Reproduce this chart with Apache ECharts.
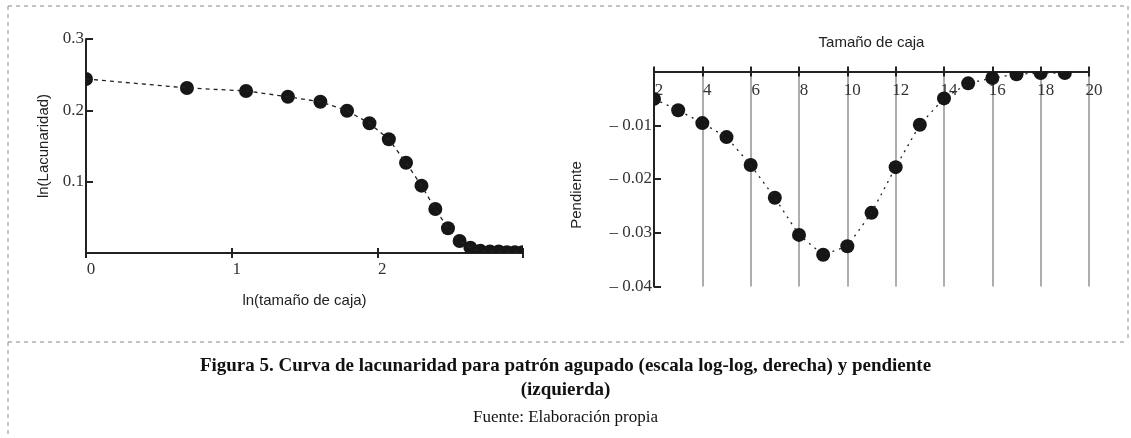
<!DOCTYPE html>
<html>
<head>
<meta charset="utf-8">
<script src="https://cdn.jsdelivr.net/npm/echarts@6/dist/echarts.min.js"></script>
<style>
html, body { margin: 0; padding: 0; background: #fff; }
#main { width: 1131px; height: 438px; }
</style>
</head>
<body>
<div id="main"></div>
<script>
// curva de lacunaridad (log-log)
var lnCaja = [0, 0.693, 1.099, 1.386, 1.609, 1.792, 1.946, 2.079, 2.197, 2.303,
              2.398, 2.485, 2.565, 2.639, 2.708, 2.773, 2.833, 2.890, 2.944, 2.996];
var lnLacunaridad = [0.244, 0.2314, 0.2272, 0.219, 0.212, 0.1995, 0.1818, 0.1594, 0.1266, 0.0944,
                     0.0617, 0.0346, 0.0168, 0.0075, 0.003, 0.002, 0.002, 0.001, 0.001, 0.001];

// pendiente
var tamCaja = [2, 3, 4, 5, 6, 7, 8, 9, 10, 11, 12, 13, 14, 15, 16, 17, 18, 19];
var pendiente = [-0.0051, -0.0072, -0.0096, -0.0122, -0.0174, -0.0235, -0.0304, -0.0341, -0.0325,
                 -0.0263, -0.0178, -0.0099, -0.0050, -0.0022, -0.0012, -0.0005, -0.0003, -0.0003];

var leyenda = [
    'Figura 5. Curva de lacunaridad para patrón agupado (escala log-log, derecha) y pendiente',
    '(izquierda)',
    'Fuente: Elaboración propia'
];

var serif = '"Liberation Serif", "DejaVu Serif", serif';
var sans = '"Liberation Sans", Arial, sans-serif';
var negro = '#222';

var myChart = echarts.init(document.getElementById('main'));

function pares(xs, ys) {
    return xs.map(function (x, i) { return [x, ys[i]]; });
}

// puntos gruesos, recortados al area del grafico
function punto(params, api) {
    var p = api.coord([api.value(0), api.value(1)]);
    return {
        type: 'circle',
        shape: { cx: p[0], cy: p[1], r: 7 },
        style: { fill: '#161616' }
    };
}

function borde(x1, y1, x2, y2) {
    return {
        type: 'line',
        shape: { x1: x1, y1: y1, x2: x2, y2: y2 },
        style: { stroke: '#8a8a8a', lineWidth: 1, lineDash: [4, 4] },
        silent: true
    };
}

function texto(t, y, font) {
    return {
        type: 'text',
        x: 565.5,
        y: y,
        style: {
            text: t,
            font: font + ' ' + serif,
            fill: '#111',
            align: 'center',
            verticalAlign: 'middle'
        },
        silent: true
    };
}

var tickLabel = { fontFamily: serif, fontSize: 17, color: '#333' };

option = {
    animation: false,
    grid: [
        { left: 86, top: 39, width: 437, height: 214 },
        { left: 654, top: 71.5, width: 435, height: 215 }
    ],
    xAxis: [
        {
            gridIndex: 0, type: 'value', position: 'bottom',
            min: 0, max: 3, interval: 1,
            name: 'ln(tamaño de caja)', nameLocation: 'middle', nameGap: 40,
            nameTextStyle: { fontFamily: sans, fontSize: 15, color: negro },
            axisLine: { onZero: false, lineStyle: { color: negro, width: 2 } },
            axisTick: { length: 5, lineStyle: { color: negro, width: 2 } },
            axisLabel: Object.assign({
                margin: 8, padding: [0, 0, 0, 10],
                formatter: function (v) { return v === 3 ? '' : v; }
            }, tickLabel),
            splitLine: { show: false }
        },
        {
            gridIndex: 0, type: 'value', position: 'bottom',
            min: 0, max: 3, interval: 1,
            axisLine: { show: false },
            axisTick: { inside: true, length: 5, lineStyle: { color: negro, width: 2 } },
            axisLabel: { show: false },
            splitLine: { show: false }
        },
        {
            gridIndex: 1, type: 'value', position: 'top',
            min: 2, max: 20, interval: 2,
            name: 'Tamaño de caja', nameLocation: 'middle', nameGap: 21,
            nameTextStyle: { fontFamily: sans, fontSize: 15, color: negro },
            axisLine: { onZero: false, lineStyle: { color: negro, width: 2 } },
            axisTick: { length: 5, lineStyle: { color: negro, width: 2 } },
            axisLabel: Object.assign({
                inside: true, margin: 11, padding: [0, 0, 0, 10]
            }, tickLabel),
            splitLine: { show: true, lineStyle: { color: '#929292', width: 1.5 } }
        },
        {
            gridIndex: 1, type: 'value', position: 'top',
            min: 2, max: 20, interval: 2,
            axisLine: { show: false },
            axisTick: { inside: true, length: 5, lineStyle: { color: negro, width: 2 } },
            axisLabel: { show: false },
            splitLine: { show: false }
        }
    ],
    yAxis: [
        {
            gridIndex: 0, type: 'value',
            min: 0, max: 0.3, interval: 0.1,
            name: 'ln(Lacunaridad)', nameLocation: 'middle', nameGap: 35,
            nameTextStyle: { fontFamily: sans, fontSize: 15, color: negro },
            axisLine: { onZero: false, lineStyle: { color: negro, width: 2 } },
            axisTick: { inside: true, length: 7, lineStyle: { color: negro, width: 2 } },
            axisLabel: Object.assign({
                margin: 2, padding: [8, 0, 0, 0],
                formatter: function (v) { return Math.abs(v) < 1e-9 ? '' : v.toFixed(1); }
            }, tickLabel),
            splitLine: { show: false }
        },
        {
            gridIndex: 1, type: 'value',
            min: -0.04, max: 0, interval: 0.01,
            name: 'Pendiente', nameLocation: 'middle', nameGap: 70,
            nameTextStyle: { fontFamily: sans, fontSize: 15, color: negro, padding: [0, 32, 0, 0] },
            axisLine: { onZero: false, lineStyle: { color: negro, width: 2 } },
            axisTick: { inside: true, length: 7, lineStyle: { color: negro, width: 2 } },
            axisLabel: Object.assign({
                margin: 2, padding: [9, 0, 0, 0],
                formatter: function (v) {
                    return Math.abs(v) < 1e-9 ? '' : '\u2013 ' + Math.abs(v).toFixed(2);
                }
            }, tickLabel),
            splitLine: { show: false }
        }
    ],
    series: [
        {
            name: 'lacunaridad', type: 'line',
            xAxisIndex: 0, yAxisIndex: 0,
            data: pares(lnCaja, lnLacunaridad),
            symbol: 'none', clip: true,
            lineStyle: { color: negro, width: 1.3, type: [4, 4] }
        },
        {
            name: 'lacunaridad puntos', type: 'custom',
            xAxisIndex: 0, yAxisIndex: 0,
            data: pares(lnCaja, lnLacunaridad),
            renderItem: punto, clip: true,
            encode: { x: 0, y: 1 }
        },
        {
            name: 'pendiente', type: 'line',
            xAxisIndex: 2, yAxisIndex: 1,
            data: pares(tamCaja, pendiente),
            symbol: 'none', clip: true,
            lineStyle: { color: negro, width: 1.3, type: [2, 5] }
        },
        {
            name: 'pendiente puntos', type: 'custom',
            xAxisIndex: 2, yAxisIndex: 1,
            data: pares(tamCaja, pendiente),
            renderItem: punto, clip: true,
            encode: { x: 0, y: 1 }
        }
    ],
    graphic: [
        borde(8, 6, 1128, 6),
        borde(8, 6, 8, 438),
        borde(1128, 6, 1128, 342),
        borde(8, 342, 1128, 342),
        texto(leyenda[0], 366, 'bold 19px'),
        texto(leyenda[1], 390, 'bold 19px'),
        texto(leyenda[2], 418, '17px')
    ]
};

myChart.setOption(option);
window.onresize = myChart.resize;
</script>
</body>
</html>
